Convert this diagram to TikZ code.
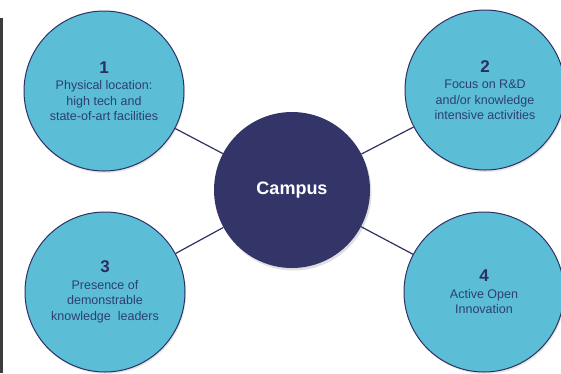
\documentclass[tikz,border=0pt]{standalone}
\usepackage{fontspec}
\setmainfont{Liberation Sans}
\usetikzlibrary{shadows}
\definecolor{sky}{HTML}{5BBDD6}
\definecolor{rim}{HTML}{2E3166}
\definecolor{hubfill}{HTML}{333468}
\definecolor{txt}{HTML}{2D3F73}
\definecolor{numc}{HTML}{2A2E60}
\definecolor{strip}{HTML}{3C3C3C}
\newcommand{\numtxt}[1]{{\fontsize{17}{17}\selectfont\bfseries\color{numc}#1}}
\begin{document}
\begin{tikzpicture}[x=1pt,y=-1pt,
  sat/.style={circle, draw=rim, line width=1pt, fill=sky, minimum size=160pt, inner sep=0pt,
    align=center, text=txt, font=\fontsize{12.5}{15.5}\selectfont,
    drop shadow={opacity=0.2, shadow xshift=1pt, shadow yshift=-2pt}},
  hubc/.style={circle, fill=hubfill, minimum size=156pt, inner sep=0pt,
    text=white, font=\fontsize{18}{18}\selectfont\bfseries,
    drop shadow={opacity=0.25, shadow xshift=1.5pt, shadow yshift=-2.5pt}},
  link/.style={draw=rim, line width=1.2pt}]
\useasboundingbox (0,0) rectangle (561,373);
\fill[strip] (0,18) rectangle (3,373);
\node[hubc] (hub) at (292,190) {Campus};
\node[sat] (s1) at (104,91) {\numtxt{1}\\[1pt]Physical location:\\high tech and\\state-of-art facilities};
\node[sat] (s2) at (485,90) {\numtxt{2}\\[1pt]Focus on R\&D\\and/or knowledge\\intensive activities};
\node[sat] (s3) at (105,292) {\numtxt{3}\\[1pt]Presence of\\demonstrable\\knowledge\ \ leaders};
\node[sat] (s4) at (484,292) {\numtxt{4}\\[1pt]Active Open\\Innovation};
\draw[link] (s1) -- (hub);
\draw[link] (s2) -- (hub);
\draw[link] (s3) -- (hub);
\draw[link] (s4) -- (hub);
\end{tikzpicture}
\end{document}
